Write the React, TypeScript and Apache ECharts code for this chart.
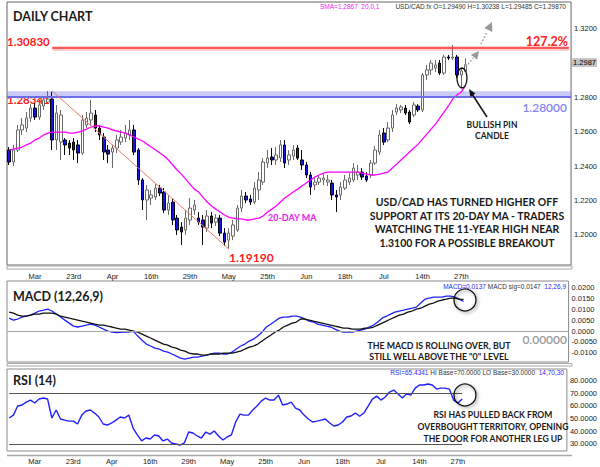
import React, { useEffect, useRef } from 'react';
import * as echarts from 'echarts';

// ---------- DATA ----------
const opens = [
  1.2493, 1.2423, 1.2493, 1.2609, 1.2620, 1.2678, 1.2736, 1.2684, 1.2748, 1.2771,
  1.2788, 1.2551, 1.2539, 1.2551, 1.2533, 1.2539, 1.2522, 1.2475, 1.2638, 1.2667,
  1.2696, 1.2620, 1.2568, 1.2493, 1.2481, 1.2504, 1.2539, 1.2562, 1.2580, 1.2609,
  1.2493, 1.2319, 1.2203, 1.2214, 1.2220, 1.2272, 1.2249, 1.2145, 1.2191, 1.2098,
  1.2046, 1.2029, 1.2087, 1.2145, 1.2098, 1.2087, 1.2040, 1.2110, 1.2075, 1.2098,
  1.2011, 1.1970, 1.1994, 1.2029, 1.2156, 1.2226, 1.2209, 1.2191, 1.2261, 1.2307,
  1.2417, 1.2452, 1.2435, 1.2446, 1.2522, 1.2435, 1.2458, 1.2504, 1.2435, 1.2406,
  1.2348, 1.2290, 1.2307, 1.2319, 1.2307, 1.2301, 1.2232, 1.2232, 1.2272, 1.2307,
  1.2319, 1.2348, 1.2365, 1.2342, 1.2348, 1.2417, 1.2481, 1.2591, 1.2551, 1.2620,
  1.2713, 1.2725, 1.2736, 1.2713, 1.2696, 1.2748, 1.2725, 1.2928, 1.2957, 1.2968,
  1.2997, 1.2939, 1.3032, 1.3026, 1.3032, 1.2928, 1.2949,
];
const closes = [
  1.2423, 1.2493, 1.2609, 1.2638, 1.2678, 1.2736, 1.2684, 1.2754, 1.2783, 1.2788,
  1.2551, 1.2707, 1.2696, 1.2522, 1.2504, 1.2493, 1.2475, 1.2667, 1.2678, 1.2707,
  1.2620, 1.2580, 1.2481, 1.2469, 1.2504, 1.2551, 1.2568, 1.2591, 1.2609, 1.2481,
  1.2319, 1.2203, 1.2261, 1.2232, 1.2272, 1.2243, 1.2145, 1.2185, 1.2087, 1.2029,
  1.2017, 1.2098, 1.2156, 1.2174, 1.2075, 1.2046, 1.2110, 1.2069, 1.2098, 1.2011,
  1.1959, 1.2011, 1.2058, 1.2156, 1.2226, 1.2203, 1.2191, 1.2272, 1.2319, 1.2423,
  1.2446, 1.2435, 1.2464, 1.2522, 1.2417, 1.2464, 1.2493, 1.2446, 1.2406, 1.2348,
  1.2278, 1.2307, 1.2330, 1.2330, 1.2319, 1.2232, 1.2220, 1.2278, 1.2319, 1.2330,
  1.2388, 1.2365, 1.2336, 1.2319, 1.2417, 1.2493, 1.2580, 1.2539, 1.2620, 1.2696,
  1.2736, 1.2742, 1.2707, 1.2655, 1.2754, 1.2725, 1.2928, 1.2957, 1.2997, 1.2986,
  1.2939, 1.3032, 1.3026, 1.3032, 1.2928, 1.2951, 1.2987,
];
const highs = [
  1.2510, 1.2522, 1.2638, 1.2678, 1.2713, 1.2759, 1.2765, 1.2783, 1.2806, 1.2835,
  1.2830, 1.2754, 1.2725, 1.2562, 1.2551, 1.2562, 1.2551, 1.2696, 1.2713, 1.2783,
  1.2725, 1.2638, 1.2591, 1.2522, 1.2522, 1.2580, 1.2609, 1.2638, 1.2667, 1.2638,
  1.2504, 1.2330, 1.2290, 1.2261, 1.2295, 1.2290, 1.2272, 1.2232, 1.2214, 1.2116,
  1.2075, 1.2145, 1.2214, 1.2203, 1.2133, 1.2116, 1.2145, 1.2133, 1.2121, 1.2116,
  1.2040, 1.2040, 1.2087, 1.2174, 1.2261, 1.2249, 1.2232, 1.2307, 1.2365, 1.2446,
  1.2493, 1.2504, 1.2510, 1.2551, 1.2551, 1.2493, 1.2522, 1.2522, 1.2493, 1.2423,
  1.2365, 1.2330, 1.2348, 1.2353, 1.2348, 1.2319, 1.2261, 1.2307, 1.2348, 1.2359,
  1.2417, 1.2406, 1.2388, 1.2365, 1.2435, 1.2516, 1.2609, 1.2620, 1.2655, 1.2725,
  1.2759, 1.2754, 1.2754, 1.2725, 1.2771, 1.2759, 1.2939, 1.2986, 1.3015, 1.3015,
  1.3015, 1.3044, 1.3044, 1.3102, 1.3044, 1.2968, 1.3024,
];
const lows = [
  1.2406, 1.2400, 1.2481, 1.2580, 1.2597, 1.2655, 1.2667, 1.2667, 1.2725, 1.2759,
  1.2493, 1.2493, 1.2435, 1.2464, 1.2464, 1.2435, 1.2417, 1.2464, 1.2620, 1.2638,
  1.2597, 1.2551, 1.2435, 1.2417, 1.2388, 1.2475, 1.2522, 1.2539, 1.2551, 1.2464,
  1.2290, 1.2145, 1.2087, 1.2174, 1.2203, 1.2226, 1.2127, 1.2116, 1.2058, 1.2000,
  1.1942, 1.2000, 1.2058, 1.2116, 1.2058, 1.1942, 1.2017, 1.2040, 1.2052, 1.1994,
  1.1936, 1.1919, 1.1970, 1.2017, 1.2133, 1.2185, 1.2174, 1.2179, 1.2203, 1.2290,
  1.2388, 1.2406, 1.2406, 1.2423, 1.2388, 1.2406, 1.2435, 1.2435, 1.2377, 1.2330,
  1.2232, 1.2261, 1.2290, 1.2290, 1.2284, 1.2203, 1.2133, 1.2203, 1.2261, 1.2290,
  1.2307, 1.2319, 1.2319, 1.2307, 1.2330, 1.2406, 1.2464, 1.2522, 1.2539, 1.2597,
  1.2696, 1.2707, 1.2696, 1.2643, 1.2684, 1.2713, 1.2713, 1.2899, 1.2928, 1.2945,
  1.2928, 1.2928, 1.3015, 1.3015, 1.2910, 1.2852, 1.2948,
];
const sma20 = [
  1.2493, 1.2498, 1.2504, 1.2510, 1.2522, 1.2533, 1.2551, 1.2562, 1.2580, 1.2591,
  1.2597, 1.2597, 1.2597, 1.2597, 1.2591, 1.2591, 1.2597, 1.2603, 1.2614, 1.2626,
  1.2632, 1.2632, 1.2626, 1.2620, 1.2609, 1.2603, 1.2597, 1.2591, 1.2580, 1.2568,
  1.2556, 1.2545, 1.2527, 1.2510, 1.2493, 1.2475, 1.2458, 1.2435, 1.2406, 1.2377,
  1.2353, 1.2324, 1.2295, 1.2266, 1.2249, 1.2220, 1.2191, 1.2168, 1.2150, 1.2133,
  1.2116, 1.2104, 1.2098, 1.2093, 1.2093, 1.2087, 1.2087, 1.2093, 1.2098, 1.2110,
  1.2133, 1.2150, 1.2168, 1.2191, 1.2214, 1.2232, 1.2249, 1.2266, 1.2284, 1.2301,
  1.2319, 1.2336, 1.2348, 1.2359, 1.2365, 1.2365, 1.2365, 1.2365, 1.2365, 1.2365,
  1.2365, 1.2365, 1.2359, 1.2353, 1.2348, 1.2348, 1.2353, 1.2359, 1.2365, 1.2388,
  1.2411, 1.2435, 1.2458, 1.2481, 1.2504, 1.2527, 1.2556, 1.2585, 1.2614, 1.2643,
  1.2678, 1.2713, 1.2748, 1.2788, 1.2812, 1.2829, 1.2867,
];
const macd = [
  0.0060, 0.0051, 0.0056, 0.0065, 0.0069, 0.0074, 0.0083, 0.0093, 0.0097, 0.0102,
  0.0093, 0.0079, 0.0065, 0.0051, 0.0037, 0.0023, 0.0019, 0.0023, 0.0028, 0.0032,
  0.0028, 0.0019, 0.0009, 0.0000, -0.0005, -0.0007, -0.0006, -0.0005, -0.0004, -0.0001,
  -0.0023, -0.0042, -0.0060, -0.0069, -0.0079, -0.0083, -0.0093, -0.0097, -0.0106, -0.0116,
  -0.0125, -0.0130, -0.0125, -0.0120, -0.0120, -0.0116, -0.0111, -0.0106, -0.0102, -0.0102,
  -0.0106, -0.0106, -0.0097, -0.0083, -0.0069, -0.0060, -0.0046, -0.0037, -0.0023, -0.0005,
  0.0019, 0.0032, 0.0046, 0.0060, 0.0065, 0.0065, 0.0069, 0.0069, 0.0065, 0.0056,
  0.0046, 0.0042, 0.0032, 0.0028, 0.0023, 0.0019, 0.0009, 0.0000, -0.0005, -0.0005,
  -0.0005, 0.0000, 0.0005, 0.0009, 0.0019, 0.0028, 0.0042, 0.0060, 0.0069, 0.0079,
  0.0088, 0.0093, 0.0097, 0.0102, 0.0106, 0.0111, 0.0130, 0.0148, 0.0153, 0.0157,
  0.0157, 0.0157, 0.0162, 0.0162, 0.0157, 0.0148, 0.0137,
];
const macdSignal = [
  0.0088, 0.0083, 0.0074, 0.0069, 0.0069, 0.0074, 0.0079, 0.0079, 0.0083, 0.0083,
  0.0083, 0.0079, 0.0069, 0.0065, 0.0060, 0.0056, 0.0051, 0.0046, 0.0042, 0.0037,
  0.0032, 0.0028, 0.0028, 0.0023, 0.0019, 0.0014, 0.0009, 0.0009, 0.0005, 0.0000,
  -0.0005, -0.0014, -0.0023, -0.0032, -0.0042, -0.0051, -0.0060, -0.0065, -0.0074, -0.0079,
  -0.0088, -0.0093, -0.0102, -0.0106, -0.0106, -0.0111, -0.0111, -0.0106, -0.0106, -0.0106,
  -0.0102, -0.0102, -0.0102, -0.0097, -0.0093, -0.0083, -0.0074, -0.0069, -0.0060, -0.0046,
  -0.0032, -0.0019, -0.0005, 0.0005, 0.0019, 0.0028, 0.0037, 0.0042, 0.0056, 0.0056,
  0.0051, 0.0046, 0.0042, 0.0037, 0.0032, 0.0028, 0.0023, 0.0019, 0.0014, 0.0014,
  0.0009, 0.0009, 0.0009, 0.0014, 0.0014, 0.0019, 0.0028, 0.0037, 0.0046, 0.0056,
  0.0065, 0.0074, 0.0079, 0.0088, 0.0093, 0.0102, 0.0106, 0.0116, 0.0125, 0.0130,
  0.0139, 0.0144, 0.0148, 0.0153, 0.0153, 0.0148, 0.0147,
];
const rsi14 = [
  50.4, 52.7, 59.8, 60.6, 62.9, 64.5, 62.2, 65.3, 66.1, 65.3,
  50.4, 56.7, 49.6, 48.8, 48.0, 48.0, 45.7, 52.7, 55.9, 56.7,
  54.3, 51.2, 45.7, 44.9, 46.5, 48.8, 51.2, 50.4, 52.7, 42.5,
  37.1, 32.4, 34.7, 33.9, 37.1, 36.3, 32.4, 33.9, 30.8, 30.0,
  29.2, 30.8, 39.4, 38.6, 36.3, 34.7, 39.4, 37.8, 40.2, 36.3,
  33.1, 35.5, 37.1, 47.3, 53.5, 52.7, 52.7, 56.7, 59.8, 63.7,
  66.1, 64.5, 64.5, 68.4, 60.6, 61.4, 62.9, 58.2, 56.7, 52.7,
  49.6, 47.3, 48.0, 48.8, 49.6, 46.5, 44.1, 44.9, 47.3, 51.2,
  52.0, 54.3, 51.8, 54.3, 59.8, 65.3, 67.6, 64.5, 66.9, 70.8,
  72.4, 69.2, 66.1, 69.2, 68.4, 73.9, 76.3, 76.3, 77.1, 76.3,
  73.1, 73.9, 73.9, 73.1, 64.5, 62.2, 65.43,
];
const tickLabels = ['Mar', '23rd', 'Apr', '16th', '29th', 'May', '25th', 'Jun', '18th', 'Jul', '14th', '27th'];
const tickBars = [6, 15, 24, 33, 42, 51, 60, 69, 78, 87, 96, 105];
const totalSlots = 131; // bars + empty space on the right of the chart
const priceTicks = [1.20, 1.22, 1.24, 1.26, 1.28, 1.32];
const macdTicks = [-0.01, -0.005, 0, 0.005, 0.01, 0.015, 0.02];
const rsiTicks = [30, 40, 50, 60, 70, 80];
const fibLevel = 1.3083;
const zoneLow = 1.2800;
const zoneHigh = 1.2834;
const swingHigh = { bar: 10, value: 1.2835 };
const swingLow = { bar: 51, value: 1.1919 };
const lastPrice = 1.2987;

// ---------- BUILD ----------
const categories = Array.from({ length: totalSlots }, (_, i) => `b${i}`);
const labelAt: Record<number, string> = {};
tickBars.forEach((b, k) => (labelAt[b] = tickLabels[k]));
const ohlc = opens.map((o, i) => [o, closes[i], lows[i], highs[i]]);

const UI = '"Liberation Sans", Arial, sans-serif';
const BOLD = 'Lato, "Open Sans", sans-serif';

const txt = (text: string, x: number, y: number, o: any = {}) => ({
  type: 'text',
  x,
  y,
  z: o.z ?? 100,
  silent: true,
  style: {
    text,
    fill: o.fill || '#1a1a1a',
    fontSize: o.size || 10,
    fontWeight: o.weight || 'bold',
    fontFamily: o.family || BOLD,
    textAlign: o.align || 'left',
    align: o.align || 'left',
    textVerticalAlign: 'middle',
    verticalAlign: 'middle',
    rich: o.rich,
  },
});

const circle = (cx: number, cy: number, r: number) => ({
  type: 'circle',
  z: 100,
  silent: true,
  shape: { cx, cy, r },
  style: {
    fill: 'rgba(0,0,0,0)',
    stroke: '#111',
    lineWidth: 1.3,
    shadowBlur: 3,
    shadowColor: 'rgba(0,0,0,0.45)',
    shadowOffsetX: 1.5,
    shadowOffsetY: 1.5,
  },
});

const mainNote = [
  'USD/CAD HAS TURNED HIGHER OFF',
  'SUPPORT AT ITS 20-DAY MA - TRADERS',
  'WATCHING THE 11-YEAR HIGH NEAR',
  '1.3100 FOR A POSSIBLE BREAKOUT',
];
const macdNote = ['THE MACD IS ROLLING OVER, BUT', 'STILL WELL ABOVE THE "0" LEVEL'];
const rsiNote = ['RSI HAS PULLED BACK FROM', 'OVERBOUGHT TERRITORY, OPENING', 'THE DOOR FOR ANOTHER LEG UP'];

const graphics: any[] = [
  // separators between panes
  { type: 'rect', z: 1, silent: true, shape: { x: 7, y: 266, width: 565, height: 3 }, style: { fill: '#fff', stroke: '#a8a8a8', lineWidth: 1 } },
  { type: 'rect', z: 1, silent: true, shape: { x: 7, y: 363.5, width: 565, height: 2.5 }, style: { fill: '#fff', stroke: '#a8a8a8', lineWidth: 1 } },
  { type: 'line', z: 1, silent: true, shape: { x1: 7, y1: 455.5, x2: 572, y2: 455.5 }, style: { stroke: '#a8a8a8', lineWidth: 1.5 } },
  // header
  txt('SMA=1.2867  20,0,1', 320, 6, { fill: '#ee22ee', size: 6.5, weight: 'normal', family: UI }),
  txt('USD/CAD.fx O=1.29490 H=1.30238 L=1.29485 C=1.29870', 566, 6, { fill: '#333', size: 6.5, weight: 'normal', family: UI, align: 'right' }),
  txt('DAILY CHART', 13, 16, { size: 12.5 }),
  txt('1.30830', 7, 41, { size: 11.5, fill: '#ff2020' }),
  txt('127.2%', 568, 41, { size: 12.5, fill: '#ff2020', align: 'right' }),
  txt('1.28341', 7, 99, { size: 11.5, fill: '#ff2020', z: 0 }),
  txt('1.28000', 567, 107, { size: 12, fill: '#8484ec', weight: 600, align: 'right' }),
  txt('1.19190', 229, 257, { size: 12, fill: '#ff2020' }),
  txt('20-DAY MA', 268, 217, { size: 9, fill: '#ee22ee' }),
  txt('BULLISH PIN', 492, 125, { size: 8.5, align: 'center' }),
  txt('CANDLE', 492, 136, { size: 8.5, align: 'center' }),
  ...mainNote.map((t, i) => txt(t, 467, 202 + i * 13.7, { size: 10.5, align: 'center' })),
  // pin candle ellipse
  { type: 'ellipse', z: 100, silent: true, shape: { cx: 462, cy: 78, rx: 5, ry: 10 }, style: { fill: 'rgba(0,0,0,0)', stroke: '#111', lineWidth: 1.3 } },
  // black arrow to pin
  { type: 'line', z: 100, silent: true, shape: { x1: 487, y1: 117, x2: 472, y2: 94 }, style: { stroke: '#111', lineWidth: 1.5 } },
  { type: 'polygon', z: 100, silent: true, shape: { points: [[469, 89], [475.5, 93.5], [470.3, 96.8]] }, style: { fill: '#111' } },
  // grey dotted arrows
  { type: 'line', z: 100, silent: true, shape: { x1: 466, y1: 67, x2: 473, y2: 58 }, style: { stroke: '#999', lineWidth: 1.5, lineDash: [1.5, 2] } },
  { type: 'polygon', z: 100, silent: true, shape: { points: [[479, 51], [477.1, 59.7], [470.9, 54.7]] }, style: { fill: '#999' } },
  { type: 'line', z: 100, silent: true, shape: { x1: 481, y1: 44, x2: 487, y2: 32 }, style: { stroke: '#999', lineWidth: 1.5, lineDash: [1.5, 2] } },
  { type: 'polygon', z: 100, silent: true, shape: { points: [[492, 22], [492.3, 32], [484.3, 28]] }, style: { fill: '#999' } },
  // MACD pane
  txt('MACD (12,26,9)', 13, 296, { size: 12.5 }),
  txt('{b|MACD=0.0137} {k|MACD sig=0.0147}  {b|12,26,9}', 566, 286, {
    size: 6.5, weight: 'normal', family: UI, align: 'right', fill: '#333',
    rich: { b: { fill: '#2a2aff', color: '#2a2aff', fontSize: 6.5, fontFamily: UI }, k: { fill: '#333', color: '#333', fontSize: 6.5, fontFamily: UI } },
  }),
  txt('0.00000', 567, 339, { size: 12, fill: '#9a9a9a', weight: 600, align: 'right' }),
  ...macdNote.map((t, i) => txt(t, 439, 345 + i * 11, { size: 8.8, align: 'center' })),
  circle(465, 300, 11),
  // RSI pane
  txt('RSI (14)', 13, 380, { size: 12.5 }),
  txt('{b|RSI=65.4341} {k|HI Base=70.0000 LO Base=30.0000}  {b|14,70,30}', 564, 372, {
    size: 6.5, weight: 'normal', family: UI, align: 'right', fill: '#333',
    rich: { b: { fill: '#2a2aff', color: '#2a2aff', fontSize: 6.5, fontFamily: UI }, k: { fill: '#333', color: '#333', fontSize: 6.5, fontFamily: UI } },
  }),
  ...rsiNote.map((t, i) => txt(t, 493, 415 + i * 12, { size: 8.6, align: 'center' })),
  circle(465, 395, 11),
];

const xAxes = [0, 1, 2].map((g) => ({
  type: 'category',
  gridIndex: g,
  data: categories,
  boundaryGap: true,
  axisLine: { show: false },
  axisTick: { show: false },
  splitLine: { show: false },
  axisLabel: {
    show: g !== 1,
    interval: 0,
    margin: g === 0 ? 7 : 6,
    fontSize: 7.5,
    fontFamily: UI,
    color: '#222',
    formatter: (_v: string, i: number) => labelAt[i] ?? '',
  },
}));

const yBase = {
  type: 'value',
  position: 'right',
  splitLine: { show: false },
  axisLine: { show: false },
  axisTick: { show: false },
};
const yLabel = (ticks: number[]) => ({
  customValues: ticks,
  margin: 3,
  fontSize: 7.5,
  fontFamily: UI,
  color: '#222',
  formatter: (v: number) => v.toFixed(4),
});

const solid = (color: string, width: number) => ({ color, width, type: 'solid' });

const option: any = {
  animation: false,
  backgroundColor: '#ffffff',
  grid: [
    { left: 7, right: 28, top: 2, bottom: 202, show: true, borderColor: '#666', borderWidth: 1, backgroundColor: 'rgba(0,0,0,0)' },
    { left: 7, right: 28, top: 281, bottom: 105, show: true, borderColor: '#8a8a8a', borderWidth: 1, backgroundColor: 'rgba(0,0,0,0)' },
    { left: 7, right: 28, top: 369, bottom: 16, show: true, borderColor: '#8a8a8a', borderWidth: 1, backgroundColor: 'rgba(0,0,0,0)' },
  ],
  xAxis: xAxes,
  yAxis: [
    { ...yBase, gridIndex: 0, min: 1.1826, max: 1.3351, axisLabel: yLabel(priceTicks) },
    { ...yBase, gridIndex: 1, min: -0.0143, max: 0.0232, axisLabel: yLabel(macdTicks) },
    { ...yBase, gridIndex: 2, min: 24.5, max: 88.9, axisLabel: yLabel(rsiTicks) },
  ],
  graphic: { elements: graphics },
  series: [
    {
      type: 'candlestick',
      name: 'USD/CAD',
      xAxisIndex: 0,
      yAxisIndex: 0,
      data: ohlc,
      barWidth: 3,
      itemStyle: { color: '#ffffff', color0: '#1414e6', borderColor: '#6a6a6a', borderColor0: '#050505', borderWidth: 1 },
      markArea: {
        silent: true,
        itemStyle: { color: 'rgba(125,125,238,0.4)' },
        data: [[{ yAxis: zoneLow }, { yAxis: zoneHigh }]],
      },
      markLine: {
        silent: true,
        symbol: ['none', 'none'],
        label: { show: false },
        lineStyle: { type: 'solid' },
        data: [
          [{ coord: [categories[10], fibLevel], lineStyle: solid('rgba(255,80,80,0.28)', 5) }, { coord: [categories[totalSlots - 1], fibLevel] }],
          [{ coord: [categories[10], fibLevel], lineStyle: solid('#ff3030', 1.5) }, { coord: [categories[totalSlots - 1], fibLevel] }],
          { yAxis: zoneLow, lineStyle: solid('#6e6ee6', 2) },
          [
            { coord: [categories[swingHigh.bar], swingHigh.value], lineStyle: solid('#f07a68', 1) },
            { coord: [categories[swingLow.bar], swingLow.value] },
          ],
          {
            yAxis: lastPrice,
            lineStyle: { color: 'rgba(0,0,0,0)', width: 0.5, type: 'solid' },
            label: {
              show: true,
              position: 'end',
              distance: 1,
              formatter: lastPrice.toFixed(4),
              backgroundColor: '#c4c4c4',
              color: '#000',
              fontSize: 7.5,
              fontFamily: UI,
              padding: [1, 1, 0, 1],
            },
          },
        ],
      },
    },
    {
      type: 'line',
      name: 'SMA 20',
      xAxisIndex: 0,
      yAxisIndex: 0,
      data: sma20,
      symbol: 'none',
      z: 3,
      lineStyle: { color: '#ff00ff', width: 1.3 },
    },
    {
      type: 'line',
      name: 'MACD',
      xAxisIndex: 1,
      yAxisIndex: 1,
      data: macd,
      symbol: 'none',
      lineStyle: { color: '#2020ff', width: 1.3 },
      markLine: {
        silent: true,
        symbol: ['none', 'none'],
        label: { show: false },
        lineStyle: solid('#a6a6a6', 1),
        data: [{ yAxis: 0 }],
      },
    },
    {
      type: 'line',
      name: 'Signal',
      xAxisIndex: 1,
      yAxisIndex: 1,
      data: macdSignal,
      symbol: 'none',
      lineStyle: { color: '#111', width: 1.3 },
    },
    {
      type: 'line',
      name: 'RSI',
      xAxisIndex: 2,
      yAxisIndex: 2,
      data: rsi14,
      symbol: 'none',
      lineStyle: { color: '#2020ff', width: 1.4 },
      markLine: {
        silent: true,
        symbol: ['none', 'none'],
        label: { show: false },
        lineStyle: solid('#555', 1),
        data: [
          [{ coord: [categories[0], 70] }, { coord: [categories[opens.length - 1], 70] }],
          [{ coord: [categories[0], 30] }, { coord: [categories[opens.length - 1], 30] }],
        ],
      },
    },
  ],
};

export default function App() {
  const ref = useRef<HTMLDivElement>(null);
  useEffect(() => {
    if (!ref.current) return;
    const chart = echarts.init(ref.current, null, { renderer: 'svg' });
    chart.setOption(option);
    return () => chart.dispose();
  }, []);
  return (
    <div
      ref={ref}
      style={{ position: 'absolute', left: 0, top: 0, width: 600, height: 467, background: '#fff' }}
    />
  );
}
